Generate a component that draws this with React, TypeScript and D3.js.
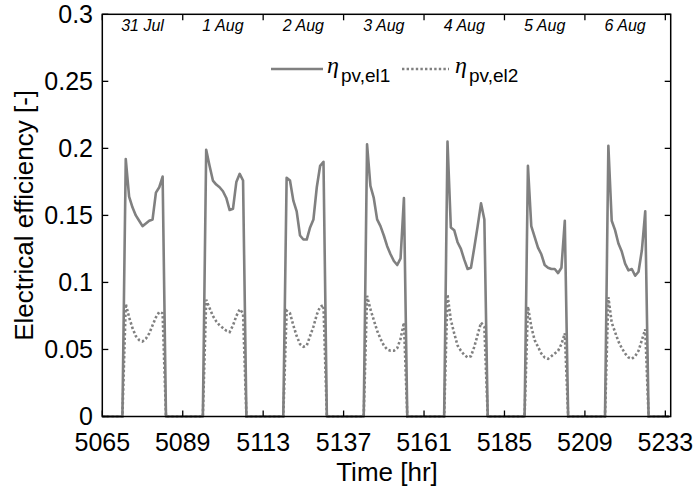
import React from "react";
import * as d3 from "d3";

// ---- data ----
const xTicks = [5065, 5089, 5113, 5137, 5161, 5185, 5209, 5233];
const yTicks = [0, 0.05, 0.1, 0.15, 0.2, 0.25, 0.3];
const yTickLabels = ["0", "0.05", "0.1", "0.15", "0.2", "0.25", "0.3"];
const dayLabels = ["31 Jul", "1 Aug", "2 Aug", "3 Aug", "4 Aug", "5 Aug", "6 Aug"];
const dayStartHours = [5072, 5096, 5120, 5144, 5168, 5192, 5216];

const eta1Days = [
  [0.192, 0.164, 0.156, 0.15, 0.146, 0.142, 0.144, 0.146, 0.147, 0.167, 0.171, 0.179],
  [0.199, 0.187, 0.176, 0.173, 0.171, 0.168, 0.163, 0.154, 0.155, 0.175, 0.181, 0.176],
  [0.178, 0.176, 0.161, 0.153, 0.135, 0.132, 0.132, 0.141, 0.147, 0.171, 0.187, 0.19],
  [0.203, 0.172, 0.163, 0.147, 0.142, 0.135, 0.127, 0.121, 0.116, 0.113, 0.118, 0.163],
  [0.205, 0.141, 0.139, 0.13, 0.125, 0.117, 0.11, 0.111, 0.126, 0.142, 0.159, 0.147],
  [0.187, 0.142, 0.134, 0.126, 0.121, 0.113, 0.111, 0.11, 0.11, 0.107, 0.111, 0.146],
  [0.202, 0.146, 0.139, 0.129, 0.123, 0.114, 0.109, 0.11, 0.105, 0.108, 0.124, 0.153],
];

const eta2Days = [
  [0.084, 0.074, 0.066, 0.06, 0.057, 0.056, 0.058, 0.062, 0.068, 0.074, 0.078, 0.077],
  [0.087, 0.081, 0.075, 0.071, 0.068, 0.066, 0.064, 0.063, 0.068, 0.075, 0.08, 0.077],
  [0.079, 0.077, 0.068, 0.06, 0.054, 0.052, 0.053, 0.06, 0.067, 0.076, 0.082, 0.083],
  [0.09, 0.08, 0.072, 0.064, 0.058, 0.053, 0.05, 0.049, 0.049, 0.051, 0.058, 0.07],
  [0.091, 0.072, 0.062, 0.053, 0.049, 0.046, 0.044, 0.045, 0.052, 0.061, 0.07, 0.067],
  [0.082, 0.067, 0.057, 0.052, 0.047, 0.044, 0.043, 0.045, 0.047, 0.049, 0.054, 0.062],
  [0.089, 0.07, 0.063, 0.056, 0.051, 0.047, 0.044, 0.043, 0.045, 0.049, 0.057, 0.065],
];

const firstHour = 5065;
const lastHour = 5234;

function buildSeries(days: number[][]): [number, number][] {
  const pts: [number, number][] = [];
  for (let h = firstHour; h <= lastHour; h++) {
    let v = 0;
    dayStartHours.forEach((s, i) => {
      if (h >= s && h < s + days[i].length) v = days[i][h - s];
    });
    pts.push([h, v]);
  }
  return pts;
}

const W = 693;
const H = 488;
const left = 102.3;
const right = 670.7;
const top = 14.3;
const bottom = 416.5;

export default function App() {
  const x = d3.scaleLinear().domain([5065, 5234.6]).range([left, right]);
  const y = d3.scaleLinear().domain([0, 0.3]).range([bottom, top]);
  const line = d3
    .line<[number, number]>()
    .x((d) => x(d[0]))
    .y((d) => y(d[1]));
  const s1 = buildSeries(eta1Days);
  const s2 = buildSeries(eta2Days);
  const col = "#808080";
  const font = "'Liberation Sans', Arial, sans-serif";
  const tickLen = 6;

  return (
    <svg
      width={W}
      height={H}
      style={{ position: "absolute", left: 0, top: 0, background: "#fff" }}
      fontFamily={font}
    >
      <rect x={0} y={0} width={W} height={H} fill="#fff" />
      {/* data */}
      <path d={line(s2) || ""} fill="none" stroke={col} strokeWidth={2.6} strokeDasharray="2.4 2.2" />
      <path d={line(s1) || ""} fill="none" stroke={col} strokeWidth={2.6} strokeLinejoin="round" />

      {/* frame */}
      <rect x={left} y={top} width={right - left} height={bottom - top} fill="none" stroke="#000" strokeWidth={1.5} />

      {/* x ticks bottom & top */}
      {xTicks.map((t) => (
        <g key={"xt" + t}>
          <line x1={x(t)} x2={x(t)} y1={bottom} y2={bottom - tickLen} stroke="#000" strokeWidth={1.3} />
          <line x1={x(t)} x2={x(t)} y1={top} y2={top + tickLen} stroke="#000" strokeWidth={1.3} />
          <text x={x(t)} y={451} textAnchor="middle" fontSize={25} fill="#000">
            {t}
          </text>
        </g>
      ))}

      {/* y ticks left & right */}
      {yTicks.map((t, i) => (
        <g key={"yt" + t}>
          <line x1={left} x2={left + tickLen} y1={y(t)} y2={y(t)} stroke="#000" strokeWidth={1.3} />
          <line x1={right} x2={right - tickLen} y1={y(t)} y2={y(t)} stroke="#000" strokeWidth={1.3} />
          <text x={93} y={y(t)} dy="0.34em" textAnchor="end" fontSize={25} fill="#000">
            {yTickLabels[i]}
          </text>
        </g>
      ))}

      {/* day labels */}
      {dayLabels.map((d, i) => (
        <text
          key={d}
          x={x(firstHour + 12 + 24 * i)}
          y={31}
          textAnchor="middle"
          fontSize={16}
          fontStyle="italic"
          fill="#000"
        >
          {d}
        </text>
      ))}

      {/* axis titles */}
      <text x={387} y={481} textAnchor="middle" fontSize={26} fill="#000">
        Time [hr]
      </text>
      <text
        transform={`translate(33, ${(top + bottom) / 2}) rotate(-90)`}
        textAnchor="middle"
        fontSize={26}
        fill="#000"
      >
        Electrical efficiency [-]
      </text>

      {/* legend */}
      <line x1={271} x2={323} y1={69} y2={69} stroke={col} strokeWidth={2.6} />
      <text x={327} y={73} fontSize={24} fontStyle="italic" fontFamily="'Liberation Serif', serif" fill="#000">
        η
      </text>
      <text x={341} y={82} fontSize={19} fill="#000">
        pv,el1
      </text>
      <line x1={402} x2={449} y1={69} y2={69} stroke={col} strokeWidth={2.6} strokeDasharray="2.4 2.2" />
      <text x={455} y={73} fontSize={24} fontStyle="italic" fontFamily="'Liberation Serif', serif" fill="#000">
        η
      </text>
      <text x={469} y={82} fontSize={19} fill="#000">
        pv,el2
      </text>
    </svg>
  );
}
